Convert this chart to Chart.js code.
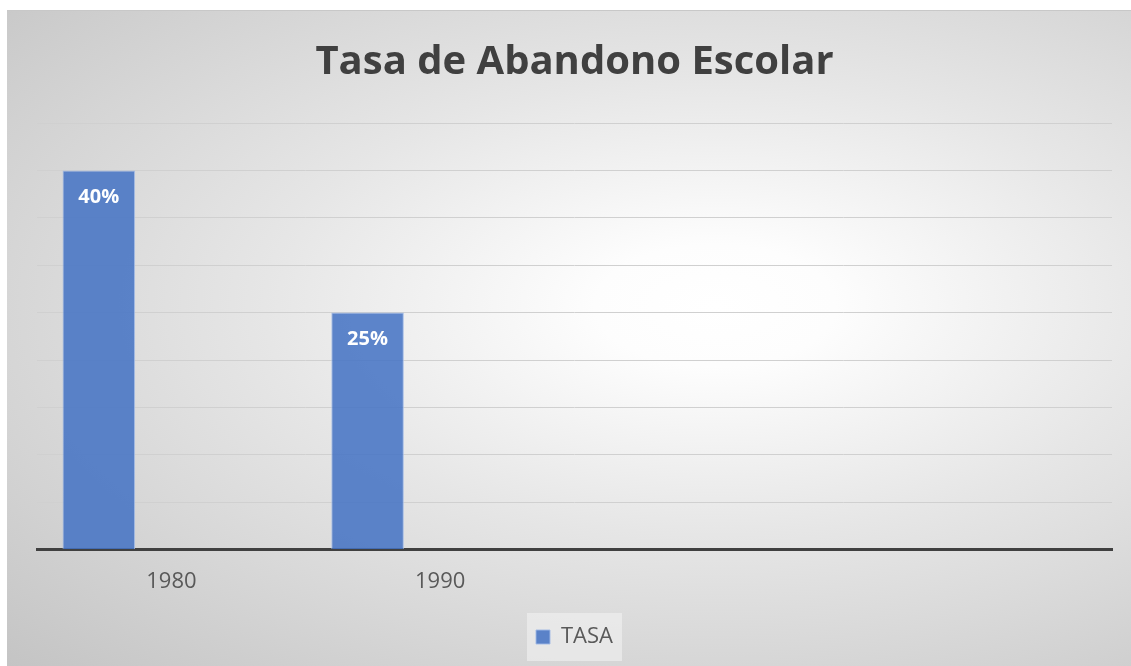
<!DOCTYPE html>
<html><head><meta charset="utf-8">
<script src="https://cdn.jsdelivr.net/npm/chart.js@4"></script>
<style>
html,body{margin:0;padding:0;background:#fff;width:1131px;height:666px;overflow:hidden;}
#wrap{position:absolute;left:7px;top:10px;width:1124px;height:656px;
 background:radial-gradient(ellipse farthest-corner at 63% 45%, #ffffff 0%, #fdfdfd 12%, #e6e6e6 45%, #c4c4c4 100%);
 border-top:1px solid #c8c8c8;box-sizing:border-box;}
canvas{display:block;}
</style></head>
<body><div id="wrap"><canvas id="c" width="1124" height="655"></canvas></div>
<script>
const categories = ['1980', '1990', '', ''];
const seriesName = 'TASA';
const tasaValues = [40, 25, null, null];
const emptySeries = [null, null, null, null];
const yTicks = [0, 5, 10, 15, 20, 25, 30, 35, 40, 45];

const labelPlugin = {
  id: 'barLabels',
  afterDatasetsDraw(chart) {
    const ctx = chart.ctx;
    const meta = chart.getDatasetMeta(0);
    ctx.save();
    ctx.font = 'bold 20px "Open Sans", "Noto Sans", sans-serif';
    ctx.fillStyle = '#ffffff';
    ctx.textAlign = 'center';
    ctx.textBaseline = 'middle';
    meta.data.forEach((bar, i) => {
      const v = tasaValues[i];
      if (v === null) return;
      ctx.fillText(v + '%', bar.x, bar.y + 27);
    });
    ctx.restore();
  }
};
const legendBg = {
  id: 'legendBg',
  beforeDraw(chart) {
    const l = chart.legend;
    if (!l || !l.legendHitBoxes || !l.legendHitBoxes.length) return;
    const h = l.legendHitBoxes[0];
    const ctx = chart.ctx;
    ctx.save();
    ctx.fillStyle = 'rgba(242,242,242,0.6)';
    ctx.fillRect(h.left - 9, h.top - 13, h.width + 18, h.height + 26);
    ctx.restore();
  }
};

new Chart(document.getElementById('c'), {
  type: 'bar',
  data: {
    labels: categories,
    datasets: [
      { label: seriesName, data: tasaValues, backgroundColor: 'rgba(68,114,196,0.86)', borderColor: 'rgba(160,185,230,0.9)', borderWidth: 1, categoryPercentage: 0.81, barPercentage: 1.0 },
      { label: '', data: emptySeries, backgroundColor: 'transparent', categoryPercentage: 0.81, barPercentage: 1.0 },
      { label: '', data: emptySeries, backgroundColor: 'transparent', categoryPercentage: 0.81, barPercentage: 1.0 }
    ]
  },
  options: {
    responsive: false,
    animation: false,
    devicePixelRatio: 1,
    layout: { padding: { left: 30, right: 19, top: 0, bottom: 8 } },
    scales: {
      x: {
        grid: { display: false, drawTicks: false },
        border: { display: true, color: '#404040', width: 3 },
        ticks: { color: '#595959', font: { size: 22, family: '"Open Sans", "Noto Sans", sans-serif' }, padding: 19 }
      },
      y: {
        min: 0, max: 45,
        afterBuildTicks(axis) { axis.ticks = yTicks.map(v => ({ value: v })); },
        ticks: { display: false },
        grid: { color: '#d0d0d0', lineWidth: 1, drawTicks: false },
        border: { display: false }
      }
    },
    plugins: {
      title: {
        display: true,
        text: 'Tasa de Abandono Escolar',
        color: '#404040',
        font: { size: 40, weight: 'bold', family: '"Open Sans", "Noto Sans", sans-serif' },
        padding: { top: 28, bottom: 36 }
      },
      legend: {
        position: 'bottom',
        labels: {
          filter: (item) => item.text !== '',
          boxWidth: 14, boxHeight: 14,
          color: '#595959',
          font: { size: 22, family: '"Open Sans", "Noto Sans", sans-serif' },
          padding: 12
        }
      },
      tooltip: { enabled: false }
    }
  },
  plugins: [legendBg, labelPlugin]
});
</script>
</body></html>
